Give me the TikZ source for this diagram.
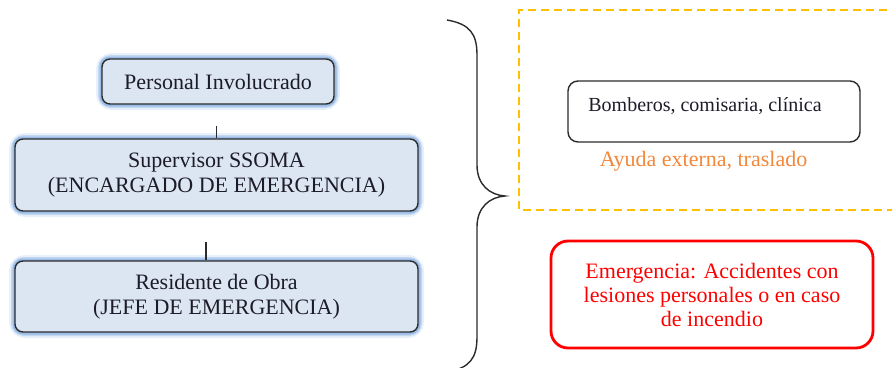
\documentclass[tikz,border=0pt]{standalone}
\usepackage{fontspec}
\setmainfont{Liberation Serif}
\definecolor{boxfill}{HTML}{DCE6F2}
\definecolor{glow}{HTML}{7FAAE0}
\definecolor{edge}{HTML}{2B2B2B}
\definecolor{dashor}{HTML}{FFC000}
\definecolor{txtor}{HTML}{F3873A}
\definecolor{txt}{HTML}{1C1C28}
\tikzset{
  bluebox/.style={draw=edge, line width=1.4pt, fill=boxfill, rounded corners=8pt,
    text=txt, align=center, inner sep=0pt,
    font=\fontsize{22}{25}\selectfont},
  whitebox/.style={draw=edge, line width=1.4pt, rounded corners=10pt, inner sep=0pt},
  redbox/.style={draw=red, line width=2.8pt, rounded corners=17pt, inner sep=0pt},
  stub/.style={draw=edge, line width=1.4pt},
}
\begin{document}
\begin{tikzpicture}[x=1pt,y=-1pt]
\useasboundingbox (0,0) rectangle (892,367);
\clip (0,0) rectangle (892,367);
% glow layers
\foreach \cx/\cy/\w/\h in {218/81.5/232/45, 216.5/175/403/72, 216.5/296.5/403/71}{
  \draw[glow, line width=12pt, opacity=0.18, rounded corners=10pt] (\cx-\w/2,\cy-\h/2) rectangle (\cx+\w/2,\cy+\h/2);
  \draw[glow, line width=8pt, opacity=0.35, rounded corners=9pt] (\cx-\w/2,\cy-\h/2) rectangle (\cx+\w/2,\cy+\h/2);
  \draw[glow, line width=5pt, opacity=0.6, rounded corners=8pt] (\cx-\w/2,\cy-\h/2) rectangle (\cx+\w/2,\cy+\h/2);
}
\node[bluebox, minimum width=232pt, minimum height=45pt] (b1) at (218,81.5) {Personal Involucrado};
\node[bluebox, minimum width=403pt, minimum height=72pt] (b2) at (216.5,175) {Supervisor SSOMA\\(ENCARGADO DE EMERGENCIA)};
\node[bluebox, minimum width=403pt, minimum height=71pt] (b3) at (216.5,296.5) {Residente de Obra\\(JEFE DE EMERGENCIA)};
\draw[stub] (b2.north) -- ++(0,-12) coordinate (s1);
\draw[stub] ([xshift=-10.5pt]b3.north) -- ++(0,-18) coordinate (s2);
% brace
\coordinate (bt) at (447,20);
\coordinate (tip) at (505,196);
\coordinate (bb) at (447,372);
\draw[edge, line width=1.4pt] (bt) .. controls (470,24) and (477,34) .. (477,55)
  -- (477,165) .. controls (477,185) and (490,195) .. (tip)
  .. controls (490,197) and (477,207) .. (477,227)
  -- (477,337) .. controls (477,358) and (470,368) .. (bb);
% dashed box
\draw[dashor, line width=1.5pt, dash pattern=on 8pt off 5pt] (900,10) -- (519,10) -- (519,210) -- (900,210);
\node[whitebox, minimum width=292pt, minimum height=61pt] (bom) at (714,111.5) {};
\node[text=txt, font=\fontsize{20}{23}\selectfont, inner sep=0pt] (bomt) at (705,106) {Bomberos, comisaria, clínica};
\node[text=txtor, font=\fontsize{22}{25}\selectfont, inner sep=0pt] (ay) at (703.5,161) {Ayuda externa, traslado};
\node[redbox, minimum width=322pt, minimum height=107pt, text=red, align=center, font=\fontsize{22}{24}\selectfont] (em) at (712,294.5) {Emergencia: Accidentes con\\lesiones personales o en caso\\de incendio};
\end{tikzpicture}
\end{document}
